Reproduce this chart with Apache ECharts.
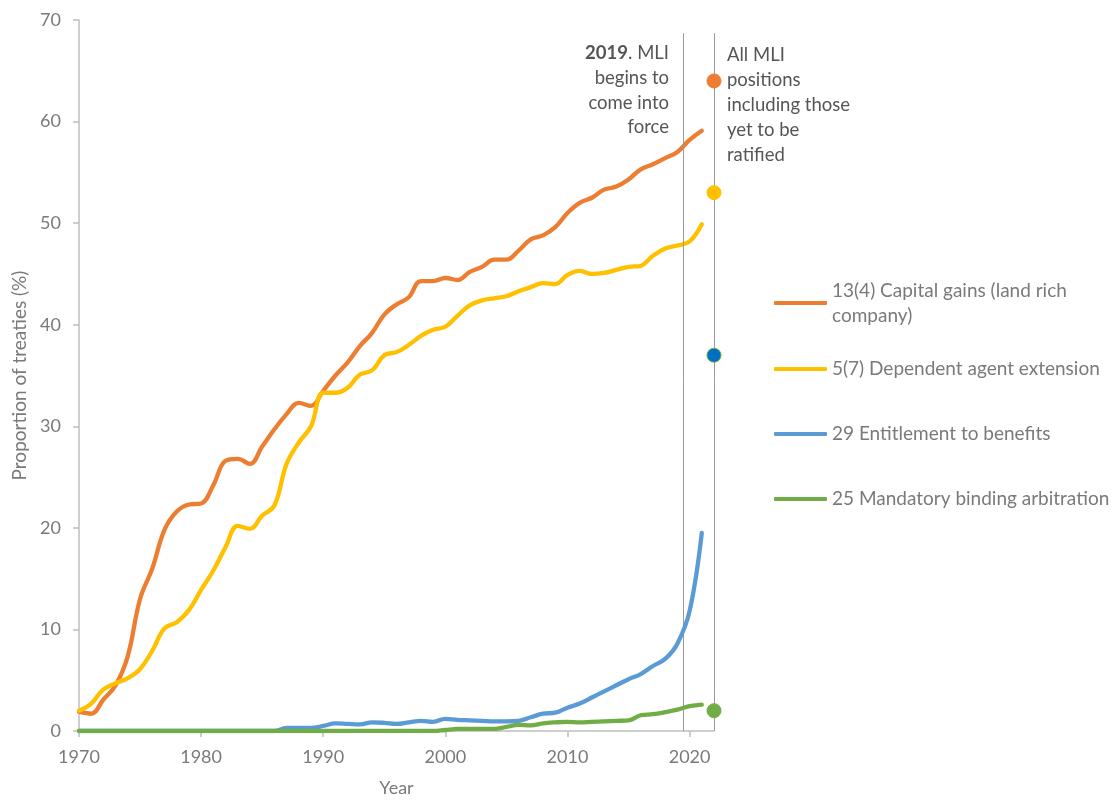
<!DOCTYPE html>
<html>
<head>
<meta charset="utf-8">
<script src="https://cdn.jsdelivr.net/npm/echarts@6/dist/echarts.min.js"></script>
<style>
html,body{margin:0;padding:0;background:#fff;}
#chart{width:1115px;height:802px;}
</style>
</head>
<body>
<div id="chart"></div>
<script>
const years = [1970,1971,1972,1973,1974,1975,1976,1977,1978,1979,
  1980,1981,1982,1983,1984,1985,1986,1987,1988,1989,
  1990,1991,1992,1993,1994,1995,1996,1997,1998,1999,
  2000,2001,2002,2003,2004,2005,2006,2007,2008,2009,
  2010,2011,2012,2013,2014,2015,2016,2017,2018,2019,
  2020,2021];

const capitalGains = [1.9,1.7,3.1,4.5,7.4,13.0,16.0,19.8,21.6,22.3,
  22.4,24.2,26.6,26.8,26.3,28.0,29.7,31.2,32.3,32.0,
  33.5,35.0,36.3,37.9,39.2,41.0,42.0,42.7,44.3,44.3,
  44.6,44.4,45.2,45.7,46.4,46.4,47.3,48.4,48.8,49.6,
  51.0,52.0,52.5,53.3,53.6,54.3,55.3,55.8,56.4,57.0,
  58.2,59.1];

const dependentAgent = [2.0,2.7,4.1,4.7,5.2,6.1,7.9,10.1,10.7,11.9,
  13.9,15.8,18.1,20.2,19.9,21.2,22.2,26.3,28.4,30.0,
  33.3,33.3,33.8,35.1,35.5,37.0,37.3,38.0,38.9,39.5,
  39.8,40.9,41.9,42.4,42.6,42.8,43.3,43.7,44.1,44.0,
  44.9,45.3,45.0,45.1,45.4,45.7,45.8,46.8,47.5,47.8,
  48.2,49.9];

const entitlement = [0,0,0,0,0,0,0,0,0,0,
  0,0,0,0,0,0,0,0.3,0.3,0.3,
  0.5,0.75,0.7,0.65,0.85,0.8,0.7,0.85,1.0,0.9,
  1.2,1.1,1.05,1.0,0.95,0.95,1.0,1.35,1.7,1.8,
  2.3,2.7,3.3,3.9,4.5,5.1,5.6,6.4,7.1,8.6,
  11.8,19.5];

const arbitration = [0,0,0,0,0,0,0,0,0,0,
  0,0,0,0,0,0,0,0,0,0,
  0,0,0,0,0,0,0,0,0,0,
  0.1,0.2,0.2,0.2,0.2,0.4,0.6,0.55,0.75,0.85,
  0.9,0.85,0.9,0.95,1.0,1.05,1.55,1.65,1.85,2.1,
  2.45,2.6];

const seriesNames = [
  '13(4) Capital gains (land rich company)',
  '5(7) Dependent agent extension',
  '29 Entitlement to benefits',
  '25 Mandatory binding arbitration'
];

// All MLI positions including those yet to be ratified
const mliYear = 2022;
const mliValues = [64, 53, 37, 2];

// vertical reference lines
const refLineYears = [2019.5, 2022];
const refLineTop = 68.7;

const xTickValues = [1970,1980,1990,2000,2010,2020];

const colors = ['#ED7D31','#FFC000','#5B9BD5','#70AD47'];
const dotColors = ['#ED7D31','#FFC000','#0070C0','#70AD47'];
const dotBorders = ['#ED7D31','#FFC000','#70AD47','#70AD47'];

const FONT = 'Lato';
const seriesValues = [capitalGains, dependentAgent, entitlement, arbitration];

const chart = echarts.init(document.getElementById('chart'), null, {renderer:'canvas'});

const lineSeries = seriesValues.map((vals, i) => ({
  name: seriesNames[i],
  type: 'line',
  smooth: 0.4,
  showSymbol: false,
  symbol: 'none',
  data: years.map((y, k) => [y, vals[k]]),
  lineStyle: {color: colors[i], width: 4.3, cap: 'round', join: 'round'},
  itemStyle: {color: colors[i]},
  z: 3 + i
}));

const dotSeries = mliValues.map((v, i) => ({
  type: 'scatter',
  symbol: 'circle',
  symbolSize: 14,
  data: [[mliYear, v]],
  itemStyle: {color: dotColors[i], borderColor: dotBorders[i], borderWidth: 1, opacity: 1},
  z: 8
}));

const refSeries = {
  type: 'line',
  data: [],
  silent: true,
  z: 9,
  markLine: {
    silent: true,
    symbol: ['none','none'],
    label: {show: false},
    lineStyle: {color: '#9a9a9a', width: 1, type: 'solid'},
    emphasis: {disabled: true},
    data: refLineYears.map(yr => [{coord: [yr, 0]}, {coord: [yr, refLineTop]}])
  }
};

const legendTops = [265.5, 356.5, 421.5, 486.5];
const legends = seriesNames.map((n, i) => ({
  data: [i === 0 ? {name: n, textStyle: {padding: [25, 0, 0, 0]}} : {name: n}],
  orient: 'vertical',
  left: 774,
  top: legendTops[i],
  padding: 0,
  itemWidth: 53,
  itemHeight: 4,
  icon: 'roundRect',
  selectedMode: false,
  formatter: name => name === seriesNames[0] ? '13(4) Capital gains (land rich\ncompany)' : name,
  textStyle: {fontFamily: FONT, fontSize: 19, color: '#7a7a7a', lineHeight: 25}
}));

const option = {
  animation: false,
  backgroundColor: '#ffffff',
  color: colors,
  grid: {left: 79, right: 401, top: 20, bottom: 70, containLabel: false},
  legend: legends,
  xAxis: {
    type: 'value',
    min: 1970,
    max: 2022,
    interval: 10,
    name: 'Year',
    nameLocation: 'middle',
    nameGap: 48,
    nameTextStyle: {fontFamily: FONT, fontSize: 18, color: '#7a7a7a'},
    axisLine: {show: true, lineStyle: {color: '#bfbfbf', width: 1.5}},
    axisTick: {show: true, length: 6, lineStyle: {color: '#bfbfbf', width: 1.5}, customValues: xTickValues},
    axisLabel: {fontFamily: FONT, fontSize: 18, color: '#7a7a7a', margin: 17, customValues: xTickValues,
      formatter: v => String(v)},
    splitLine: {show: false}
  },
  yAxis: {
    type: 'value',
    min: 0,
    max: 70,
    interval: 10,
    name: 'Proportion of treaties (%)',
    nameLocation: 'middle',
    nameGap: 50,
    nameTextStyle: {fontFamily: FONT, fontSize: 19, color: '#7a7a7a'},
    axisLine: {show: true, lineStyle: {color: '#bfbfbf', width: 1.5}},
    axisTick: {show: true, length: 6, lineStyle: {color: '#bfbfbf', width: 1.5}},
    axisLabel: {fontFamily: FONT, fontSize: 18, color: '#7a7a7a', margin: 18},
    splitLine: {show: false}
  },
  graphic: [
    {
      type: 'text',
      x: 669,
      y: 41,
      silent: true,
      style: {
        text: '{b|2019}{n|. MLI}\n{n|begins to}\n{n|come into}\n{n|force}',
        textAlign: 'right',
        textVerticalAlign: 'top',
        rich: {
          b: {fontFamily: FONT, fontSize: 18.5, fontWeight: 'bold', fill: '#555555', lineHeight: 24.7},
          n: {fontFamily: FONT, fontSize: 18.5, fill: '#555555', lineHeight: 24.7}
        }
      }
    },
    {
      type: 'text',
      x: 727,
      y: 42.5,
      silent: true,
      style: {
        text: 'All MLI\npositions\nincluding those\nyet to be\nratified',
        textAlign: 'left',
        textVerticalAlign: 'top',
        font: '18.5px ' + FONT,
        fill: '#555555',
        lineHeight: 25
      }
    }
  ],
  tooltip: {show: false},
  series: [...lineSeries, ...dotSeries, refSeries]
};

chart.setOption(option);
</script>
</body>
</html>
